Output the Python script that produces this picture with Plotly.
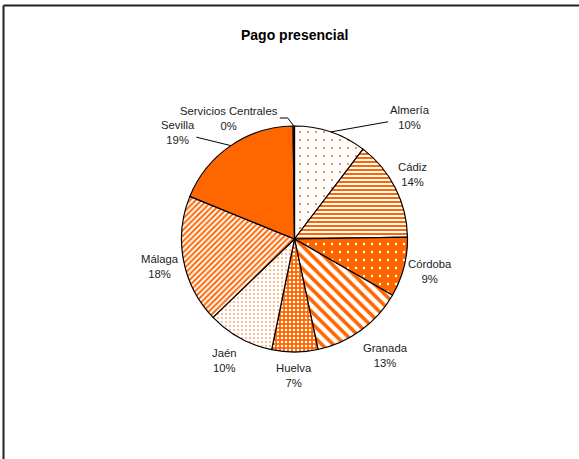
import math
import plotly.graph_objects as go

# ---- data ----
provinces = ["Almería", "Cádiz", "Córdoba", "Granada", "Huelva", "Jaén", "Málaga", "Sevilla", "Servicios Centrales"]
values = [10.4, 14.4, 8.6, 13.4, 6.6, 9.6, 18.4, 18.7, 0.2]
title_text = "Pago presencial"

# ---- styles ----
ORANGE = "#FF6600"
W, H = 579, 459
CX, CY, R = 294.5, 239.0, 113.0  # pie centre / radius in pixels

pattern_shape = [".", "-", ".", "\\", ".", ".", "/", "", ""]
pattern_bg = ["white", "white", ORANGE, "white", ORANGE, "white", "white", ORANGE, ORANGE]
pattern_fg = [ORANGE, ORANGE, "white", ORANGE, "white", ORANGE, ORANGE, ORANGE, ORANGE]
pattern_size = [8, 4, 8, 8, 4, 4, 4, 8, 8]
pattern_sol = [0.05, 0.5, 0.07, 0.45, 0.3, 0.12, 0.5, 0.3, 0.3]

# label offsets (pixels, from slice mid-point on rim) and leader-line style
label_dx = [79, 17, 26, 24, -1, -15, -24, -53, -65]
label_dy = [-14, -13, 4, 25, 24, 23, 6, -13, -8]
leader = ["straight", None, None, None, None, None, None, "straight", "bent"]

LABEL_FONT = dict(family="Liberation Sans, Arial", size=11.3, color="#222")

fig = go.Figure()
fig.add_trace(go.Pie(
    labels=provinces,
    values=values,
    sort=False,
    direction="clockwise",
    rotation=0,
    textinfo="none",
    hoverinfo="label+percent",
    marker=dict(
        colors=pattern_bg,
        line=dict(color="black", width=1.2),
        pattern=dict(
            shape=pattern_shape,
            bgcolor=pattern_bg,
            fgcolor=pattern_fg,
            size=pattern_size,
            solidity=pattern_sol,
            fillmode="replace",
        ),
    ),
    domain=dict(x=[(CX - R) / W, (CX + R) / W], y=[1 - (CY + R) / H, 1 - (CY - R) / H]),
    showlegend=False,
))

total = sum(values)
annotations = []
shapes = []
cum = 0.0
for name, v, dx, dy, ld in zip(provinces, values, label_dx, label_dy, leader):
    mid = (cum + v / 2) / total * 2 * math.pi
    cum += v
    px = CX + R * math.sin(mid)
    py = CY - R * math.cos(mid)
    pct = round(v / total * 100)
    annotations.append(dict(
        x=px / W, y=1 - py / H, xref="paper", yref="paper",
        text=f"{name}<br>{pct}%",
        showarrow=True, arrowhead=0, arrowwidth=1,
        arrowcolor="black" if ld == "straight" else "rgba(0,0,0,0)",
        ax=dx, ay=dy,
        font=LABEL_FONT,
        align="center",
    ))
    if ld == "bent":
        # short elbow leader line from the rim to the label
        pts = [(px, py), (px - 6, py - 8), (px - 14, py - 8)]
        path = "M " + " L ".join(f"{x / W:.5f},{1 - y / H:.5f}" for x, y in pts)
        shapes.append(dict(type="path", xref="paper", yref="paper", path=path,
                           line=dict(color="black", width=1)))

annotations.append(dict(
    x=CX / W, y=1 - 35 / H, xref="paper", yref="paper", showarrow=False,
    xanchor="center", yanchor="middle",
    text=f"<b>{title_text}</b>",
    font=dict(family="Liberation Sans, Arial", size=14, color="black"),
))

shapes += [
    dict(type="line", xref="paper", yref="paper", x0=3.5 / W, x1=1.0, y0=1 - 5.5 / H, y1=1 - 5.5 / H,
         line=dict(color="#222", width=2)),
    dict(type="line", xref="paper", yref="paper", x0=3.5 / W, x1=3.5 / W, y0=0, y1=1 - 5.5 / H,
         line=dict(color="#222", width=2)),
]

fig.update_layout(
    width=W, height=H,
    margin=dict(l=0, r=0, t=0, b=0),
    paper_bgcolor="white", plot_bgcolor="white",
    annotations=annotations, shapes=shapes,
)

fig.write_html(
    "out.html",
    config={"displayModeBar": False},
    post_script="document.body.style.margin='0';document.body.style.overflow='hidden';",
)
